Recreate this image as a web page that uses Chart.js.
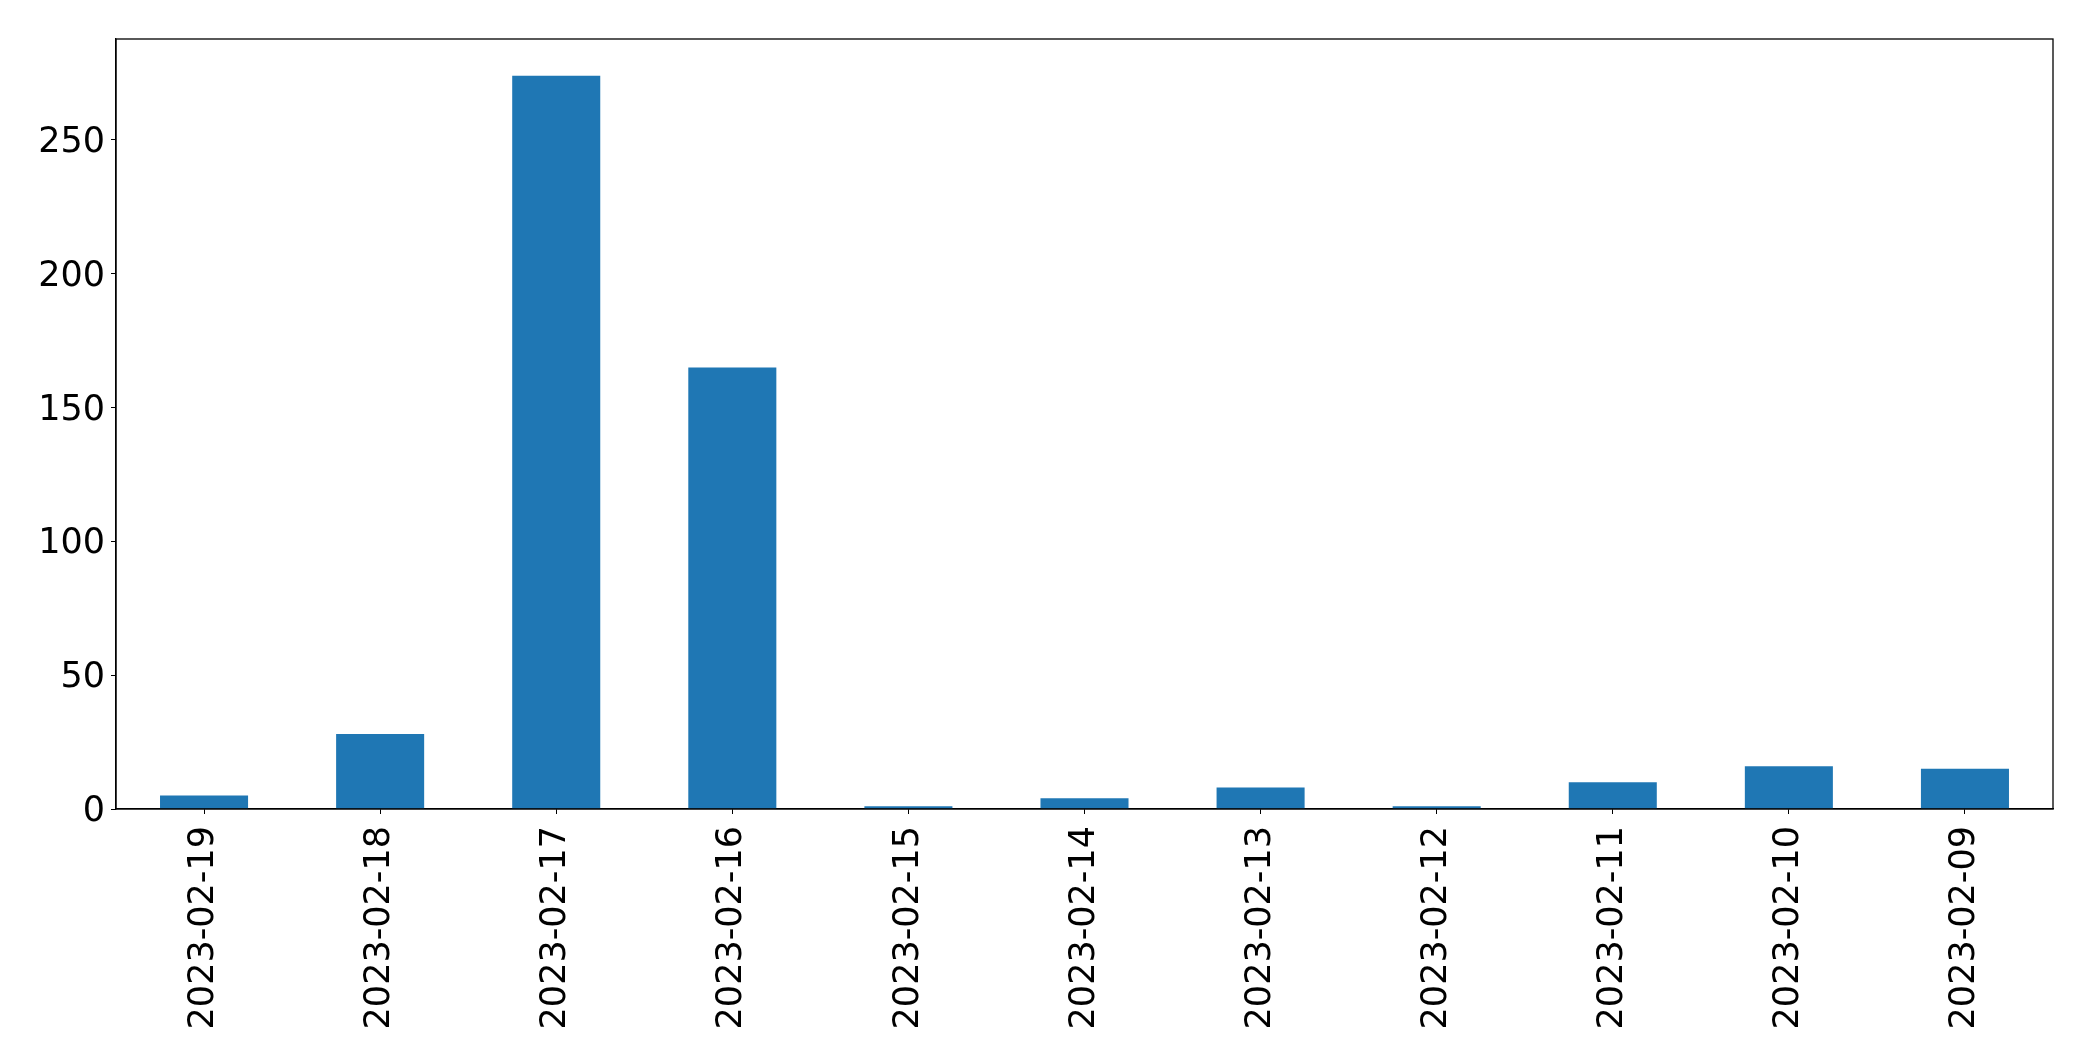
<!DOCTYPE html>
<html lang="en">
<head>
    <meta charset="UTF-8">
    <title>Daily counts</title>
    <style>
        body {
            margin: 0;
            background-color: #fff;
        }

        #wrap {
            width: 2093px;
            height: 1061px;
        }
    </style>
    <script src="https://cdn.jsdelivr.net/npm/chart.js"></script>
</head>
<body>
    <div id="wrap">
        <canvas id="bar-chart" width="2093" height="1061"></canvas>
    </div>

    <script>
        // data
        const dates = ['2023-02-19', '2023-02-18', '2023-02-17', '2023-02-16', '2023-02-15', '2023-02-14',
                       '2023-02-13', '2023-02-12', '2023-02-11', '2023-02-10', '2023-02-09'];
        const counts = [5, 28, 274, 165, 1, 4, 8, 1, 10, 16, 15];
        const yTicks = [0, 50, 100, 150, 200, 250];
        const yMax = 287.7;

        // box round the plot area (top and right sides too)
        const frame = {
            id: 'frame',
            afterDraw(chart) {
                const a = chart.chartArea;
                const ctx = chart.ctx;
                ctx.save();
                ctx.strokeStyle = '#000';
                ctx.lineWidth = 1.3;
                ctx.strokeRect(a.left, a.top, a.right - a.left, a.bottom - a.top);
                ctx.restore();
            }
        };

        const ctx = document.getElementById('bar-chart').getContext('2d');
        new Chart(ctx, {
            type: 'bar',
            data: {
                labels: dates,
                datasets: [{
                    data: counts,
                    backgroundColor: '#1f77b4',
                    barPercentage: 0.5,
                    categoryPercentage: 1.0
                }]
            },
            options: {
                responsive: false,
                animation: false,
                layout: {
                    padding: { top: 39, right: 40, bottom: 0, left: 0 }
                },
                plugins: {
                    legend: { display: false },
                    tooltip: { enabled: false }
                },
                scales: {
                    x: {
                        grid: { display: true, offset: false, drawOnChartArea: false, drawTicks: true, tickLength: 5, color: '#000' },
                        border: { display: true, color: '#000', width: 1.3 },
                        ticks: {
                            color: '#000',
                            font: { family: 'DejaVu Sans', size: 35 },
                            minRotation: 90,
                            maxRotation: 90,
                            padding: 12,
                            autoSkip: false
                        },
                        afterFit(scale) {
                            scale.height = 252;
                        }
                    },
                    y: {
                        min: 0,
                        max: yMax,
                        grid: { display: true, drawOnChartArea: false, drawTicks: true, tickLength: 5, color: '#000' },
                        border: { display: true, color: '#000', width: 1.3 },
                        ticks: {
                            color: '#000',
                            font: { family: 'DejaVu Sans', size: 35 },
                            padding: 6,
                            labelOffset: 3
                        },
                        afterBuildTicks(scale) {
                            scale.ticks = yTicks.map(v => ({ value: v }));
                        },
                        afterFit(scale) {
                            scale.width = 116;
                        }
                    }
                }
            },
            plugins: [frame]
        });
    </script>
</body>
</html>
